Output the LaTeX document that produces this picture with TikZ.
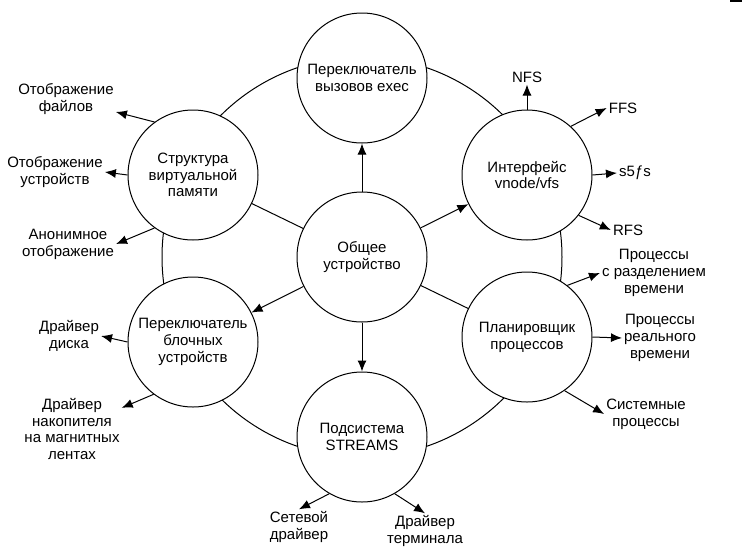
\documentclass[tikz,border=0pt]{standalone}
\usepackage{fontspec}
\setmainfont{Liberation Sans}
\usepackage{tikz}
\usetikzlibrary{arrows.meta}
\tikzstyle{unit} = [circle, draw=black, line width=1pt, fill=white, minimum size=130pt, inner sep=0pt, align=center]
\tikzstyle{leaf} = [align=center, inner sep=2pt]
\tikzstyle{arrow} = [line width=1pt, -{Latex[length=11pt,width=9pt]}]
\tikzstyle{spoke} = [line width=1pt]

\begin{document}
\begin{tikzpicture}[x=1pt, y=-1pt, font=\fontsize{15}{16.8}\selectfont]
    \useasboundingbox (0,0) rectangle (742,555);
    % outer ring behind the circles
    \draw [spoke] (362,257) circle [radius=200pt];
    \node (core) [unit] at (362,257) {Общее\\устройство};
    \node (exec) [unit] at (362,78) {Переключатель\\вызовов exec};
    \node (vm) [unit] at (193,175) {Структура\\виртуальной\\памяти};
    \node (vfs) [unit] at (527,175) {Интерфейс\\vnode/vfs};
    \node (blk) [unit] at (193,342) {Переключатель\\блочных\\устройств};
    \node (sched) [unit] at (527,337) {Планировщик\\процессов};
    \node (streams) [unit] at (362,437) {Подсистема\\STREAMS};
    \draw [arrow] (core) -- (exec);
    \draw [arrow] (core) -- (vfs);
    \draw [arrow] (core) -- (blk);
    \draw [arrow] (core) -- (streams);
    \draw [spoke] (core) -- (vm);
    \draw [spoke] (core) -- (sched);

    % virtual memory
    \node (fmap) [leaf] at (66,99) {Отображение\\файлов};
    \node (dmap) [leaf] at (55,172) {Отображение\\устройств};
    \node (amap) [leaf] at (68,244) {Анонимное\\отображение};
    \draw [arrow] (vm.126) -- (fmap);
    \draw [arrow] (vm.180) -- (dmap.east);
    \draw [arrow] (vm.234) -- (amap.east);

    % file systems
    \node (nfs) [leaf] at (527,77) {NFS};
    \node (ffs) [leaf] at (623,108) {FFS};
    \node (s5fs) [leaf] at (635,173) {s5ƒs};
    \node (rfs) [leaf] at (628,230) {RFS};
    \draw [arrow] (vfs.90) -- (nfs.south);
    \draw [arrow] (vfs.48) -- (ffs.west);
    \draw [arrow] (vfs.0) -- (s5fs.west);
    \draw [arrow] (vfs.-38) -- (rfs.west);

    % scheduler
    \node (tshare) [leaf] at (654,273) {Процессы\\с разделением\\времени};
    \node (rtime) [leaf] at (660,338) {Процессы\\реального\\времени};
    \node (sys) [leaf] at (646,414) {Системные\\процессы};
    \draw [arrow] (sched.52) -- (tshare.west);
    \draw [arrow] (sched.0) -- (rtime.west);
    \draw [arrow] (sched.-55) -- (sys.west);

    % block devices
    \node (disk) [leaf] at (69,336) {Драйвер\\диска};
    \node (tape) [leaf] at (72,429) {Драйвер\\накопителя\\на магнитных\\лентах};
    \draw [arrow] (blk.180) -- (disk.east);
    \draw [arrow] (blk.233) -- (tape);

    % streams
    \node (net) [leaf] at (299,527) {Сетевой\\драйвер};
    \node (term) [leaf] at (425,531) {Драйвер\\терминала};
    \draw [arrow] (streams.240) -- (net.north);
    \draw [arrow] (streams.-60) -- (term.north);

    \draw [line width=2pt] (730,1) -- (742,1);
\end{tikzpicture}
\end{document}
